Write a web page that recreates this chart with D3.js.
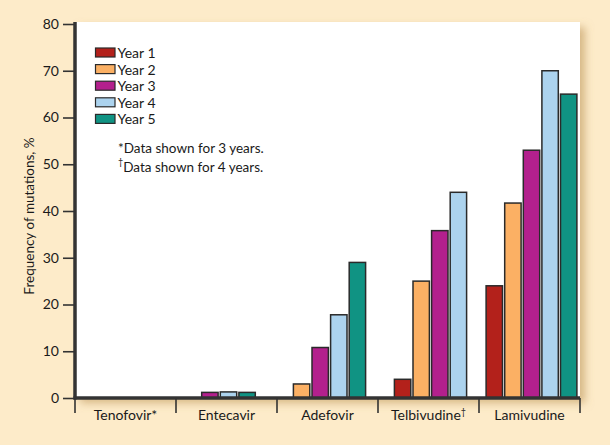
<!DOCTYPE html>
<html><head><meta charset="utf-8">
<script src="https://cdn.jsdelivr.net/npm/d3@7"></script>
<style>html,body{margin:0;padding:0;background:#fdebc9;}svg{display:block;font-family:Lato, "Open Sans", sans-serif;}</style>
</head><body>
<svg id="c" width="610" height="445"></svg>
<script>
const categories = ["Tenofovir*", "Entecavir", "Adefovir", "Telbivudine\u2020", "Lamivudine"];
const years = ["Year 1", "Year 2", "Year 3", "Year 4", "Year 5"];
// null = not shown; 0 = no visible bar
const year1 = [0, 0, 0, 4, 24];
const year2 = [0, 0, 3, 25, 41.7];
const year3 = [0, 1.2, 10.8, 35.8, 53];
const year4 = [null, 1.3, 17.8, 44, 70];
const year5 = [null, 1.2, 29, null, 65];
const yTicks = [0, 10, 20, 30, 40, 50, 60, 70, 80];
const colors = ["#b3211b", "#fbb064", "#b3208d", "#acd3ee", "#109383"];
const notes = ["*Data shown for 3 years.", "\u2020Data shown for 4 years."];
const yLabel = "Frequency of mutations, %";

const series = [year1, year2, year3, year4, year5];
const svg = d3.select("#c");
const defs = svg.append("defs");
const f = defs.append("filter").attr("id","sh").attr("x","-5%").attr("y","-5%").attr("width","115%").attr("height","115%");
f.append("feDropShadow").attr("dx",5).attr("dy",5).attr("stdDeviation",4).attr("flood-color","#b58a4e").attr("flood-opacity",0.55);

const L = 75, R = 580, T = 22, B = 398;
svg.append("rect").attr("x",L).attr("y",T).attr("width",R-L).attr("height",B-T).attr("fill","#fff").attr("filter","url(#sh)");

const x = d3.scaleBand().domain(categories).range([L, R]).padding(0);
const y = d3.scaleLinear().domain([0, 80]).range([B, 24]);

// bars
const step = 18.6, bw = 16.4;
categories.forEach((c, i) => {
  const shown = years.map((yr, j) => ({yr, j, v: series[j][i]})).filter(d => d.v != null && d.v > 0);
  const n = shown.length;
  const cx = x(c) + x.bandwidth()/2 + 2;
  const inner = d3.scaleBand().domain(shown.map(d => d.yr)).range([cx - n*step/2, cx + n*step/2]).paddingInner(1 - bw/step).paddingOuter((1 - bw/step)/2);
  svg.append("g").selectAll("rect").data(shown).join("rect")
    .attr("x", d => inner(d.yr)).attr("width", inner.bandwidth())
    .attr("y", d => y(d.v)).attr("height", d => y(0) - y(d.v))
    .attr("fill", d => colors[d.j]).attr("stroke", "#2a2a2a").attr("stroke-width", 1.5);
});

// y axis
const ya = svg.append("g").attr("transform", `translate(${L},0)`)
  .call(d3.axisLeft(y).tickValues(yTicks).tickSize(12).tickPadding(4));
ya.select(".domain").remove();
ya.selectAll(".tick line").attr("stroke","#333").attr("stroke-width",1.6);
ya.selectAll(".tick text").attr("font-size",14).attr("fill","#1a1a1a").attr("font-family","Lato, sans-serif");
svg.append("line").attr("x1",L).attr("x2",L).attr("y1",22).attr("y2",B+1.5).attr("stroke","#333").attr("stroke-width",3.5);

// x axis
const xa = svg.append("g").attr("transform", `translate(0,${B})`)
  .call(d3.axisBottom(x).tickSize(0).tickPadding(10));
xa.select(".domain").remove();
xa.selectAll(".tick text").each(function(d){
  const t = d3.select(this).text("").attr("font-size",14).attr("fill","#1a1a1a").attr("font-family","Lato, sans-serif").attr("dy","0.85em");
  if (d.endsWith("\u2020")) {
    t.append("tspan").text(d.slice(0,-1));
    t.append("tspan").attr("font-size",9).attr("dy","-0.5em").text("\u2020");
  } else t.text(d);
});
svg.append("line").attr("x1",L-1.5).attr("x2",R).attr("y1",B).attr("y2",B).attr("stroke","#333").attr("stroke-width",3.5);
const seps = categories.map(c => x(c)).concat([x(categories[categories.length-1]) + x.bandwidth()]);
svg.append("g").selectAll("line").data(seps).join("line")
  .attr("x1", d => d).attr("x2", d => d).attr("y1", B).attr("y2", B + 15)
  .attr("stroke","#333").attr("stroke-width",1.6);

// y label
svg.append("text").attr("transform","translate(34,216) rotate(-90)").attr("text-anchor","middle")
  .attr("font-size",13.5).attr("fill","#1a1a1a").text(yLabel);

// legend
const lg = svg.append("g");
years.forEach((yr, j) => {
  const yy = 48 + j*16.6;
  lg.append("rect").attr("x",95.5).attr("y",yy).attr("width",19.5).attr("height",9).attr("fill",colors[j]).attr("stroke","#2a2a2a").attr("stroke-width",1.2);
  lg.append("text").attr("x",117.5).attr("y",yy+10).attr("font-size",14).attr("fill","#1a1a1a").text(yr);
});
notes.forEach((t, k) => {
  const txt = lg.append("text").attr("x",118).attr("y",153 + k*16.5).attr("font-size",13.5).attr("fill","#1a1a1a");
  if (t[0] === "*") {
    txt.text(t);
  } else {
    txt.append("tspan").attr("font-size",9).attr("dy","-0.45em").text(t[0]);
    txt.append("tspan").attr("dy","0.45em").text(t.slice(1));
  }
});
</script>
</body></html>
